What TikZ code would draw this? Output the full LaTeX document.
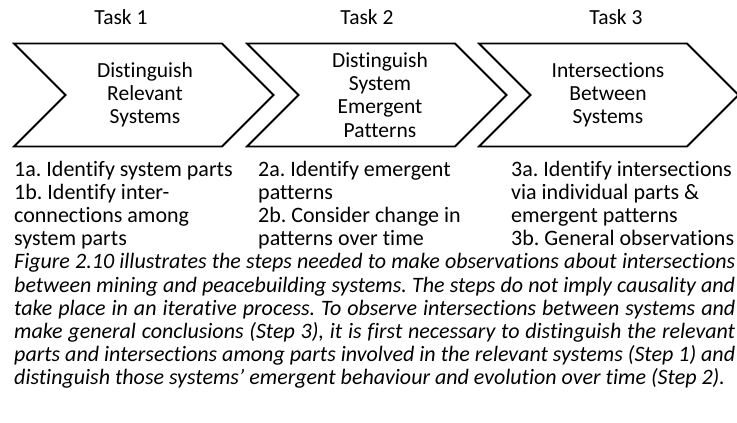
\documentclass[tikz,border=0pt]{standalone}
\usepackage{fontspec}
\setmainfont[Ligatures=NoCommon]{Carlito}
\newcommand\bodyfont{\fontsize{22}{23.2}\selectfont\frenchspacing}
\newcommand\chevfont{\fontsize{21.5}{23.2}\selectfont}
\begin{document}
\begin{tikzpicture}[x=1pt,y=-1pt,
  chev/.style={draw=black, line width=1.8pt, line join=miter},
  chevtext/.style={font=\chevfont, align=center, inner sep=0pt},
  tasklabel/.style={font=\chevfont, anchor=base, inner sep=0pt},
  listcol/.style={font=\bodyfont, anchor=base west, inner sep=0pt}]
\useasboundingbox (0,0) rectangle (737,423);
\fill[white] (0,0) rectangle (737,423);
% chevrons
\foreach \x in {14,247,479}{
  \draw[chev] (\x,43.5) -- ++(208,0) -- ++(51.5,51.5) -- ++(-51.5,51.5)
     -- ++(-208,0) -- ++(51.5,-51.5) -- cycle;
}
% task labels
\node[tasklabel] (t1) at (121,24) {Task 1};
\node[tasklabel] (t2) at (367,24) {Task 2};
\node[tasklabel] (t3) at (616,24) {Task 3};
% chevron texts
\node[chevtext] (c1) at (145,95) {Distinguish\\Relevant\\Systems};
\node[chevtext] (c2) at (380,95) {Distinguish\\System\\Emergent\\Patterns};
\node[chevtext] (c3) at (608,95) {Intersections\\Between\\Systems};
% lists
\node[listcol] (l1) at (14,176) {\parbox[t]{230pt}{\bodyfont\raggedright
  1a. Identify system parts\\1b. Identify inter-\\connections among\\system parts}};
\node[listcol] (l2) at (258,176) {\parbox[t]{240pt}{\bodyfont\raggedright
  2a. Identify emergent\\patterns\\2b. Consider change in\\patterns over time}};
\node[listcol] (l3) at (511,176) {\parbox[t]{226pt}{\bodyfont\raggedright
  3a. Identify intersections\\via individual parts \&\\emergent patterns\\3b. General observations}};
% caption
\node[listcol] (cap) at (14,268.8) {\parbox[t]{721pt}{\bodyfont\itshape\parindent=0pt
  \hbox to 721pt{Figure 2.10 illustrates the steps needed to make observations about intersections}
  \hbox to 721pt{between mining and peacebuilding systems. The steps do not imply causality and}
  \hbox to 721pt{take place in an iterative process. To observe intersections between systems and}
  \hbox to 721pt{make general conclusions (Step 3), it is first necessary to distinguish the relevant}
  \hbox to 721pt{parts and intersections among parts involved in the relevant systems (Step 1) and}
  \hbox{distinguish those systems’ emergent behaviour and evolution over time (Step 2).}}};
\end{tikzpicture}
\end{document}
